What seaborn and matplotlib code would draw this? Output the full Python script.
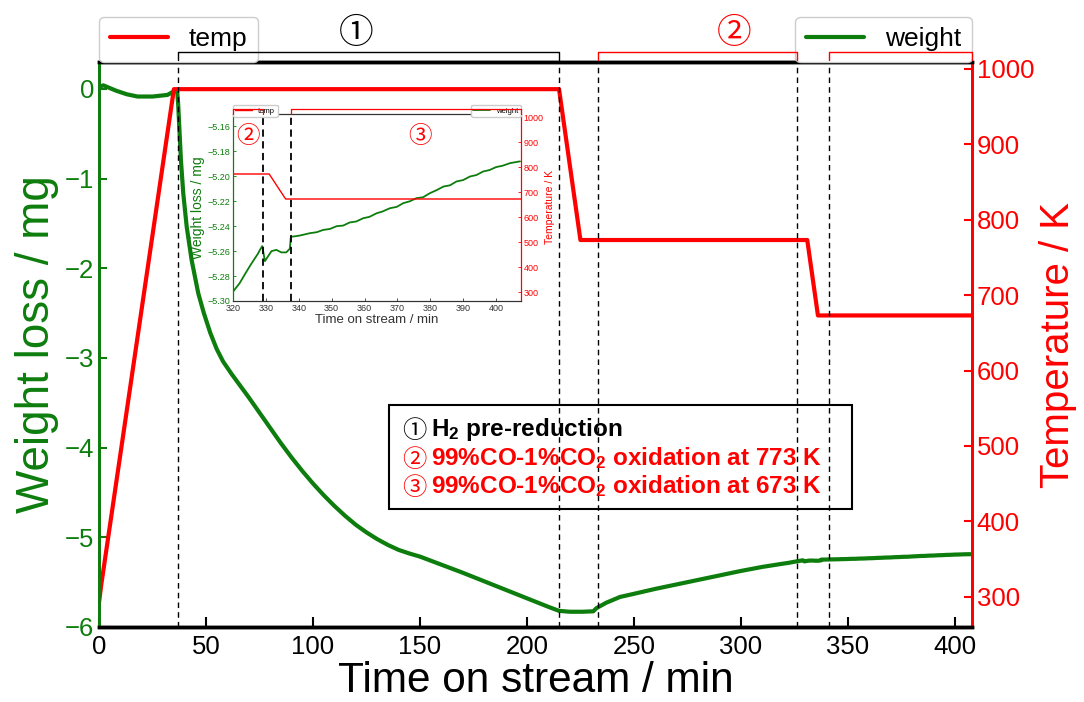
import numpy as np
import pandas as pd
import matplotlib
matplotlib.use('Agg')
import matplotlib.pyplot as plt
import matplotlib.transforms as mtransforms
from matplotlib.patches import Rectangle
from matplotlib.lines import Line2D
import seaborn as sns

# ---- data ----
# weight signal (time on stream / min, weight loss / mg)
time_w = [0, 2, 8, 13, 18, 25, 32, 35.5, 36.5, 37, 38.3, 39.4, 41, 43.3, 46.4, 49, 52, 55,
          58, 62, 66, 70, 75, 80, 85, 90, 95, 100, 105, 110, 115, 120, 125, 130, 135, 140,
          145, 150, 160, 170, 180, 190, 200, 210, 215, 220, 226, 231, 232.5, 237, 243.5,
          250, 260, 270, 280, 290, 300, 310,
          320, 322, 324.1, 325.6, 326.6, 327.6, 328.3, 328.9, 329.3, 329.7, 330.7, 331.7,
          333.2, 334.7, 336.2, 337.3, 337.6, 338.3, 340.3, 343.4, 345.5, 347.4, 349.5,
          351.5, 353.5, 355.5, 357.5, 359.6, 361.5, 363.7, 365.5, 367.7, 369.8, 371.8,
          373.8, 375.8, 377.8, 379.9, 382, 384, 386, 388, 390, 392.1, 394, 396.1, 398,
          400, 402, 404.3, 407.3]
weight = [0.02, 0.04, -0.02, -0.06, -0.085, -0.085, -0.067, -0.02, -0.02, -0.17, -0.80,
          -1.17, -1.54, -1.91, -2.28, -2.50, -2.72, -2.90,
          -3.04, -3.18, -3.31, -3.44, -3.61, -3.78, -3.95, -4.11, -4.26, -4.40, -4.53,
          -4.65, -4.76, -4.86, -4.945, -5.02, -5.085, -5.14,
          -5.18, -5.215, -5.305, -5.395, -5.49, -5.585, -5.68, -5.775, -5.82, -5.83,
          -5.83, -5.825, -5.79, -5.73, -5.665,
          -5.63, -5.575, -5.525, -5.475, -5.425, -5.375, -5.33,
          -5.2925, -5.2858, -5.2764, -5.2700, -5.2660, -5.2620, -5.2585, -5.2560, -5.2620,
          -5.2680, -5.2640, -5.2600, -5.2590, -5.2610, -5.2610, -5.2580, -5.2483, -5.2483,
          -5.2475, -5.2456, -5.2448, -5.2430, -5.2422, -5.2400, -5.2395, -5.2370, -5.2362,
          -5.2336, -5.2325, -5.2296, -5.2282, -5.2256, -5.2245, -5.2215, -5.2200, -5.2175,
          -5.2168, -5.2135, -5.2110, -5.2082, -5.2072, -5.2041, -5.2030, -5.2001, -5.1990,
          -5.1961, -5.1950, -5.1926, -5.1915, -5.1894, -5.1880]
# temperature programme (time / min, temperature / K)
time_t = [0, 1, 35, 215, 225, 331, 336, 408]
temp = [292, 315, 973, 973, 773, 773, 673, 673]

# phase boundaries drawn as dashed lines
phase_bounds = [37, 215, 233, 326, 341]
inset_bounds = [329, 337.5]

x_ticks = [0, 50, 100, 150, 200, 250, 300, 350, 400]
w_ticks = [0, -1, -2, -3, -4, -5, -6]
t_ticks = [300, 400, 500, 600, 700, 800, 900, 1000]
inset_x_ticks = [320, 330, 340, 350, 360, 370, 380, 390, 400]
inset_w_ticks = [-5.30, -5.28, -5.26, -5.24, -5.22, -5.20, -5.18, -5.16]

box_marks = ['\u2460', '\u2461', '\u2462']
box_texts = ['H$_2$ pre-reduction',
             '99%CO-1%CO$_2$ oxidation at 773 K',
             '99%CO-1%CO$_2$ oxidation at 673 K']

GREEN = '#0d7d0d'
RED = '#ff0000'

sns.set_style('ticks')
plt.rcParams['font.family'] = ['Liberation Sans', 'Noto Sans CJK JP', 'DejaVu Sans']
plt.rcParams['mathtext.fontset'] = 'custom'
plt.rcParams['mathtext.rm'] = 'Liberation Sans:bold'
plt.rcParams['mathtext.default'] = 'rm'
plt.rcParams['text.color'] = 'black'
plt.rcParams['axes.labelcolor'] = 'black'
plt.rcParams['xtick.color'] = 'black'
CJK = ['Noto Sans CJK JP', 'DejaVu Sans']

W, H = 1084, 702
fig = plt.figure(figsize=(W / 100, H / 100), dpi=100)


def fpx(x, y):
    return x / W, 1 - y / H


# ---- main axes ----
ax = fig.add_axes([99 / W, 1 - 627 / H, 873 / W, 565 / H])
ax2 = ax.twinx()
sns.lineplot(x=time_w, y=weight, ax=ax, color=GREEN, lw=3, estimator=None, sort=False, legend=False)
sns.lineplot(x=time_t, y=temp, ax=ax2, color=RED, lw=3, estimator=None, sort=False, legend=False)

ax.set_xlim(0, 408)
ax.set_ylim(-6, 0.3)
ax2.set_ylim(260, 1009)
ax.set_xticks(x_ticks)
ax.set_yticks(w_ticks)
ax2.set_yticks(t_ticks)

ax.set_xlabel('Time on stream / min', fontsize=30.5, labelpad=1, color='black')
ax.set_ylabel('Weight loss / mg', fontsize=33, color=GREEN, labelpad=4)
ax2.set_ylabel('Temperature / K', fontsize=29, color=RED)
ax2.yaxis.set_label_coords(1.077, 0.5)

ax.tick_params(axis='x', direction='in', length=7, width=1.5, labelsize=18.5, pad=6,
               colors='black')
ax.tick_params(axis='y', direction='in', length=6, width=1.5, labelsize=18.5, colors=GREEN)
ax2.tick_params(axis='y', direction='in', length=6, width=1.5, labelsize=18.5, colors=RED)

for a in (ax, ax2):
    a.spines['top'].set_color('black')
    a.spines['top'].set_linewidth(2.5)
    a.spines['bottom'].set_color('black')
    a.spines['bottom'].set_linewidth(2.5)
    a.spines['left'].set_color(GREEN)
    a.spines['left'].set_linewidth(2)
    a.spines['right'].set_color(RED)
    a.spines['right'].set_linewidth(2)

for b in phase_bounds:
    ax2.axvline(b, color='black', lw=1, ls=(0, (4, 3)))

# legends sitting on top of the frame
h_temp = Line2D([], [], color=RED, lw=3)
h_weight = Line2D([], [], color=GREEN, lw=3)
leg1 = ax2.legend([h_temp], ['temp'], loc='lower left', bbox_to_anchor=(0, 1),
                  borderaxespad=0, fontsize=19, framealpha=1, handlelength=2.2)
ax2.add_artist(leg1)
ax2.legend([h_weight], ['weight'], loc='lower right', bbox_to_anchor=(1, 1),
           borderaxespad=0, fontsize=19, framealpha=1, handlelength=2.2)

# phase brackets above the frame
tr = mtransforms.blended_transform_factory(ax.transData, ax.transAxes)
brackets = [(phase_bounds[0], phase_bounds[1], 'black'),
            (phase_bounds[2], phase_bounds[3], RED),
            (phase_bounds[4], 408, RED)]
for x0, x1, c in brackets:
    fig.add_artist(Line2D([x0, x0, x1, x1], [1.003, 1.017, 1.017, 1.003],
                          transform=tr, color=c, lw=1))
fig.text(120, 1.051, '\u2460', transform=tr, ha='center', va='center',
         fontsize=25, family=CJK, color='black')
fig.text(297, 1.051, '\u2461', transform=tr, ha='center', va='center',
         fontsize=25, family=CJK, color=RED)

# ---- legend box with the phase descriptions ----
fig.add_artist(Rectangle(fpx(389, 509), 463 / W, 104 / H, transform=fig.transFigure,
                         fill=False, edgecolor='black', lw=1.5))
box_colors = ['black', RED, RED]
baselines = [436, 465, 493]
for mark, txt, col, yb in zip(box_marks, box_texts, box_colors, baselines):
    fig.text(*fpx(402, yb + 2), mark, fontsize=17.5, family=CJK, color=col, va='baseline')
    fig.text(*fpx(431, yb), txt, fontsize=17.5, fontweight='bold', color=col, va='baseline')

# ---- inset ----
axi = fig.add_axes([233 / W, 1 - 301 / H, 288 / W, 187 / H])
axi2 = axi.twinx()
sns.lineplot(x=time_w, y=weight, ax=axi, color=GREEN, lw=1.3, estimator=None, sort=False, legend=False)
sns.lineplot(x=time_t, y=temp, ax=axi2, color=RED, lw=1, estimator=None, sort=False, legend=False)
axi.set_xlim(320, 407.6)
axi.set_ylim(-5.30, -5.15)
axi2.set_ylim(265, 1013)
axi.set_xticks(inset_x_ticks)
axi.set_yticks(inset_w_ticks)
axi.set_yticklabels([f'{v:.2f}'.replace('-', '\u2212') for v in inset_w_ticks])
axi2.set_yticks(t_ticks)
axi.set_xlabel('Time on stream / min', fontsize=9.5, labelpad=1, color='#333333')
axi.set_ylabel('Weight loss / mg', fontsize=10, color=GREEN, labelpad=2)
axi2.set_ylabel('Temperature / K', fontsize=7.5, color=RED, labelpad=1)
axi.tick_params(axis='x', direction='in', length=2.5, width=0.6, labelsize=6.5, pad=2,
                colors='#333333')
axi.tick_params(axis='y', direction='in', length=2.5, width=0.6, labelsize=6.5, pad=2,
                colors=GREEN)
axi2.tick_params(axis='y', direction='in', length=2.5, width=0.6, labelsize=6.5, pad=2,
                 colors=RED)
for a in (axi, axi2):
    a.spines['top'].set_color('#333333')
    a.spines['bottom'].set_color('#333333')
    a.spines['left'].set_color(GREEN)
    a.spines['right'].set_color(RED)
    for s in a.spines.values():
        s.set_linewidth(0.8)
for b in inset_bounds:
    axi2.axvline(b, color='black', lw=1.3, ls=(0, (4, 2.5)))

h_t_small = Line2D([], [], color=RED, lw=1)
h_w_small = Line2D([], [], color=GREEN, lw=1.3)
li = axi2.legend([h_t_small], ['temp'], loc='lower left', bbox_to_anchor=(0, 0.985),
                 borderaxespad=0, fontsize=5.5, framealpha=1, handlelength=2.2,
                 borderpad=0.3)
axi2.add_artist(li)
axi2.legend([h_w_small], ['weight'], loc='lower right', bbox_to_anchor=(1, 0.985),
            borderaxespad=0, fontsize=5.5, framealpha=1, handlelength=2.2, borderpad=0.3)

tri = mtransforms.blended_transform_factory(axi.transData, axi.transAxes)
for x0, x1 in [(320, inset_bounds[0]), (inset_bounds[1], 407.6)]:
    fig.add_artist(Line2D([x0, x0, x1, x1], [1.0, 1.027, 1.027, 1.0],
                          transform=tri, color=RED, lw=0.9))
fig.text(324.5, 0.88, '\u2461', transform=tri, ha='center', va='center',
         fontsize=17, family=CJK, color=RED)
fig.text(376.8, 0.88, '\u2462', transform=tri, ha='center', va='center',
         fontsize=17, family=CJK, color=RED)

fig.savefig('out.png', dpi=100)
